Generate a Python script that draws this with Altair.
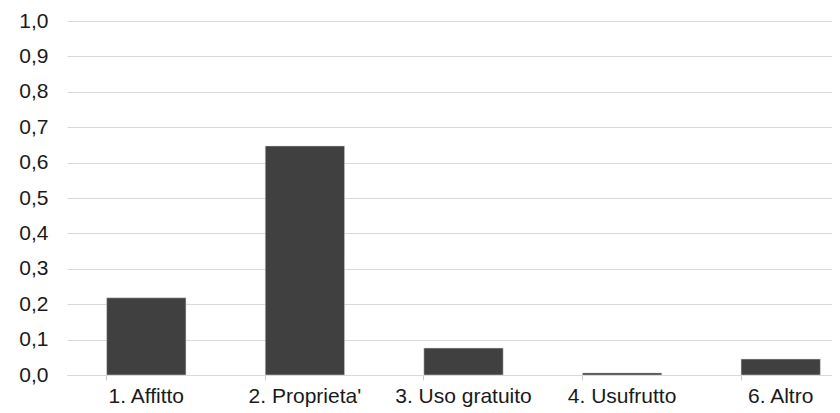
import altair as alt
import pandas as pd

categories = ["1. Affitto", "2. Proprieta'", "3. Uso gratuito", "4. Usufrutto", "6. Altro"]
values = [0.218, 0.647, 0.076, 0.006, 0.045]

df = pd.DataFrame({"cat": categories, "val": values})

chart = alt.Chart(df).mark_bar(color="#404040", stroke="#d9d9d9", strokeWidth=0.5).encode(
    x=alt.X("cat:N", sort=categories, title=None,
            scale=alt.Scale(paddingInner=0.5, paddingOuter=0.25, range=[0, 793]),
            axis=alt.Axis(labelAngle=0, bandPosition=0, tickSize=5, tickColor="#cccccc",
                          domainColor="#d9d9d9", labelPadding=5, labelFontSize=21,
                          labelColor="#1a1a1a", labelFont="Liberation Sans", grid=False)),
    y=alt.Y("val:Q", title=None,
            scale=alt.Scale(domain=[0, 1.0], nice=False),
            axis=alt.Axis(values=[i / 10 for i in range(11)], format=".1f", labelExpr="replace(datum.label, '.', ',')",
                          tickSize=0, domain=False, labelPadding=19, labelFontSize=21,
                          labelColor="#1a1a1a", labelFont="Liberation Sans",
                          gridColor="#d9d9d9", gridWidth=1)),
).properties(
    width=765, height=354,
    autosize=alt.AutoSizeParams(type="none"),
    padding={"left": 59, "top": 13, "right": 0, "bottom": 38},
).configure_view(stroke=None)

chart.save("out.html", embed_options={"renderer": "svg", "actions": False})
